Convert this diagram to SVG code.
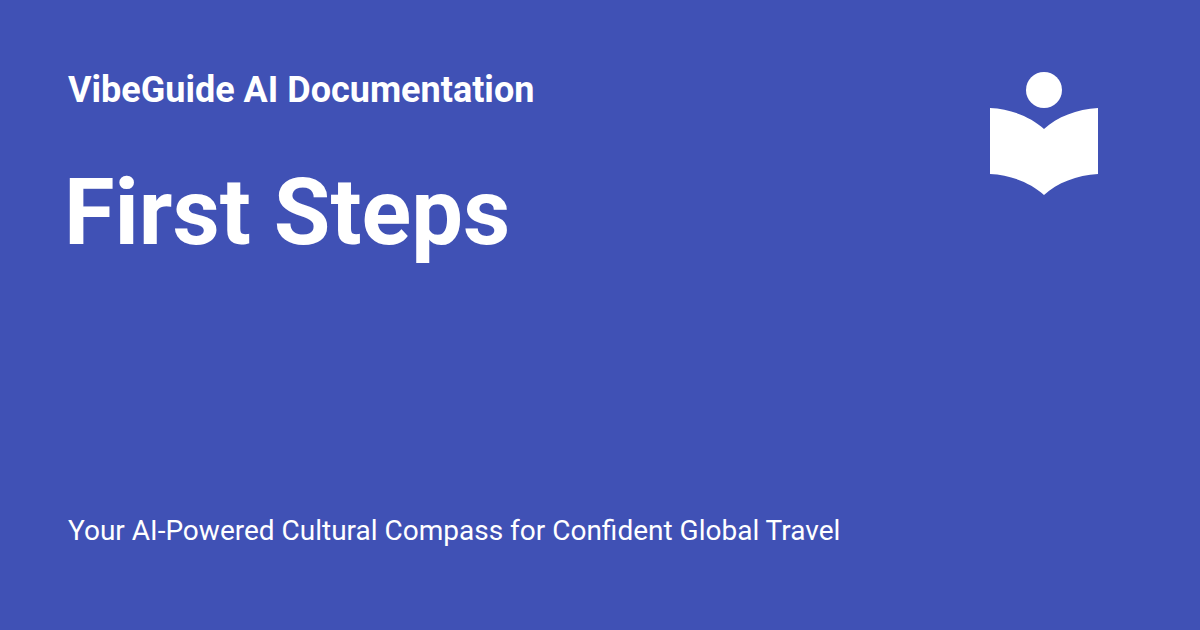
<svg xmlns="http://www.w3.org/2000/svg" width="1200" height="630" viewBox="0 0 1200 630">
<style>text{font-family:Roboto,"Liberation Sans",sans-serif;fill:#fff}</style>
<rect width="1200" height="630" fill="#4051b5"/>
<text x="68" y="102" font-size="36" font-weight="700" id="site">VibeGuide AI Documentation</text>
<text x="64" y="244" font-size="92" font-weight="700" id="title">First Steps</text>
<text x="68" y="540" font-size="28" id="desc">Your AI-Powered Cultural Compass for Confident Global Travel</text>
<g id="logo" fill="#fff">
<circle cx="1044" cy="90" r="18"/>
<path d="M1044 129C1031 117 1011 109 990 108V174C1011 175 1031 183 1044 195C1057 183 1077 175 1098 174V108C1077 109 1057 117 1044 129Z"/>
</g>
</svg>
